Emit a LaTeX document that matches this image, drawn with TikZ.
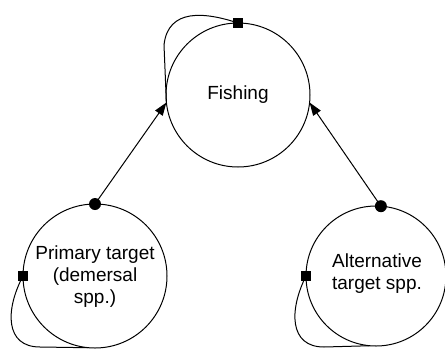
\documentclass[tikz,border=0pt]{standalone}
\usepackage{fontspec}
\setmainfont{Liberation Sans}
\usetikzlibrary{arrows.meta}
\begin{document}
\begin{tikzpicture}[x=1pt,y=-1pt,line width=1pt,
  bigcirc/.style={circle,draw,inner sep=0pt,outer sep=0pt,minimum size=#1},
  lbl/.style={inner sep=0pt,align=center,font=\fontsize{19}{22}\selectfont},
  dotc/.style={circle,fill=black,inner sep=0pt,minimum size=12pt},
  sqr/.style={rectangle,fill=black,inner sep=0pt,minimum size=9.5pt},
  arr/.style={-{Triangle[length=13pt,width=9pt]}}]
\useasboundingbox (0,0) rectangle (445,349);
% circles
\node[bigcirc=144pt] (F) at (238,95) {};
\node[bigcirc=144pt] (P) at (95,276) {};
\node[bigcirc=140pt] (A) at (376,276) {};
% labels
\node[lbl] (Ft) at (238,95) {Fishing};
\node[lbl] (Pt) at (95,277) {Primary target\\(demersal\\spp.)};
\node[lbl] (At) at (377,274) {Alternative\\target spp.};
% dots and squares
\node[dotc] (pd) at (P.north) {};
\node[dotc] (ad) at (A.86) {};
\node[sqr] (fs) at (F.north) {};
\node[sqr] (ps) at (P.west) {};
\node[sqr] (as) at (A.west) {};
% arrows
\draw[arr] (pd.center) -- (F.186);
\draw[arr] (ad.center) -- (F.354);
% self loops
\draw (fs.center) .. controls (205,12) and (168,8) .. (164,45) -- (F.186);
\draw (ps.center) .. controls (5,310) and (5,347) .. (40,347) -- (P.265);
\draw (as.center) .. controls (289,310) and (289,347) .. (324,347) -- (A.265);
\end{tikzpicture}
\end{document}
